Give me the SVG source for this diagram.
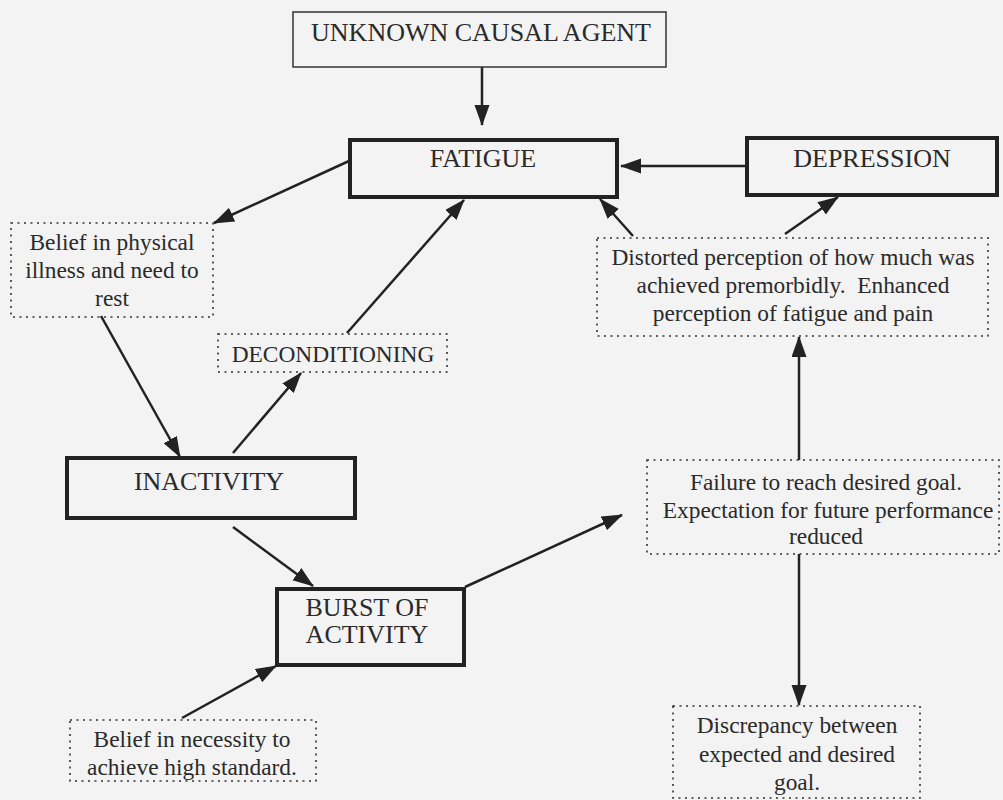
<svg xmlns="http://www.w3.org/2000/svg" width="1003" height="800" viewBox="0 0 1003 800">
<style>
.bg{fill:#f3f3f3}
.solid{fill:none;stroke:#222;stroke-width:4}
.thin{fill:none;stroke:#333;stroke-width:1.5}
.dot{fill:none;stroke:#333;stroke-width:1.6;stroke-dasharray:2 4.5}
text{font-family:"Liberation Serif","Times New Roman",serif;fill:#2a2a2a;text-anchor:middle}
.cap{font-size:26px}
.lc{font-size:23.4px}
.conn line{stroke:#222;stroke-width:2.5;marker-end:url(#ah)}
</style>
<defs>
<marker id="ah" markerUnits="userSpaceOnUse" markerWidth="22" markerHeight="16" refX="20" refY="7.5" orient="auto">
<path d="M0,0 L21,7.5 L0,15 z" fill="#222"/>
</marker>
</defs>
<rect class="bg" x="0" y="0" width="1003" height="800"/>
<g id="conn" class="conn">
<line x1="482" y1="67" x2="482" y2="125"/>
<line x1="747" y1="166" x2="621" y2="166"/>
<line x1="349" y1="161" x2="214" y2="223"/>
<line x1="347" y1="333" x2="464" y2="200"/>
<line x1="633" y1="236" x2="600" y2="199"/>
<line x1="785" y1="234" x2="838" y2="197"/>
<line x1="101" y1="316" x2="180" y2="457"/>
<line x1="233" y1="453" x2="301" y2="373"/>
<line x1="233" y1="527" x2="313" y2="586"/>
<line x1="465" y1="587" x2="622" y2="515"/>
<line x1="799" y1="460" x2="799" y2="337"/>
<line x1="799" y1="554" x2="799" y2="705"/>
<line x1="182" y1="718" x2="276" y2="666"/>
</g>
<g id="unknown">
<rect class="thin" x="293" y="12" width="373" height="55"/>
<text class="cap" x="481" y="41">UNKNOWN CAUSAL AGENT</text>
</g>
<g id="fatigue">
<rect class="solid" x="350" y="140" width="267" height="57"/>
<text class="cap" x="483" y="167">FATIGUE</text>
</g>
<g id="depression">
<rect class="solid" x="747" y="138" width="250" height="57"/>
<text class="cap" x="872" y="167">DEPRESSION</text>
</g>
<g id="belief-illness">
<rect class="dot" x="11" y="223" width="202" height="94"/>
<text class="lc" x="112" y="250">Belief in physical</text>
<text class="lc" x="112" y="278">illness and need to</text>
<text class="lc" x="112" y="306">rest</text>
</g>
<g id="deconditioning">
<rect class="dot" x="218" y="334" width="229" height="38"/>
<text class="lc" x="333" y="362">DECONDITIONING</text>
</g>
<g id="distorted">
<rect class="dot" x="597" y="238" width="391" height="98"/>
<text class="lc" x="793" y="265">Distorted perception of how much was</text>
<text class="lc" x="793" y="293" xml:space="preserve">achieved premorbidly.  Enhanced</text>
<text class="lc" x="793" y="321">perception of fatigue and pain</text>
</g>
<g id="inactivity">
<rect class="solid" x="67" y="458" width="288" height="60"/>
<text class="cap" x="209" y="490">INACTIVITY</text>
</g>
<g id="burst">
<rect class="solid" x="277" y="589" width="187" height="76"/>
<text class="cap" x="367" y="616">BURST OF</text>
<text class="cap" x="367" y="643">ACTIVITY</text>
</g>
<g id="failure">
<rect class="dot" x="647" y="460" width="352" height="94"/>
<text class="lc" x="826" y="490">Failure to reach desired goal.</text>
<text class="lc" x="828" y="518">Expectation for future performance</text>
<text class="lc" x="826" y="544">reduced</text>
</g>
<g id="belief-necessity">
<rect class="dot" x="70" y="720" width="246" height="61"/>
<text class="lc" x="192" y="747">Belief in necessity to</text>
<text class="lc" x="192" y="775">achieve high standard.</text>
</g>
<g id="discrepancy">
<rect class="dot" x="673" y="706" width="247" height="92"/>
<text class="lc" x="797" y="733">Discrepancy between</text>
<text class="lc" x="797" y="762">expected and desired</text>
<text class="lc" x="797" y="790">goal.</text>
</g>
</svg>
